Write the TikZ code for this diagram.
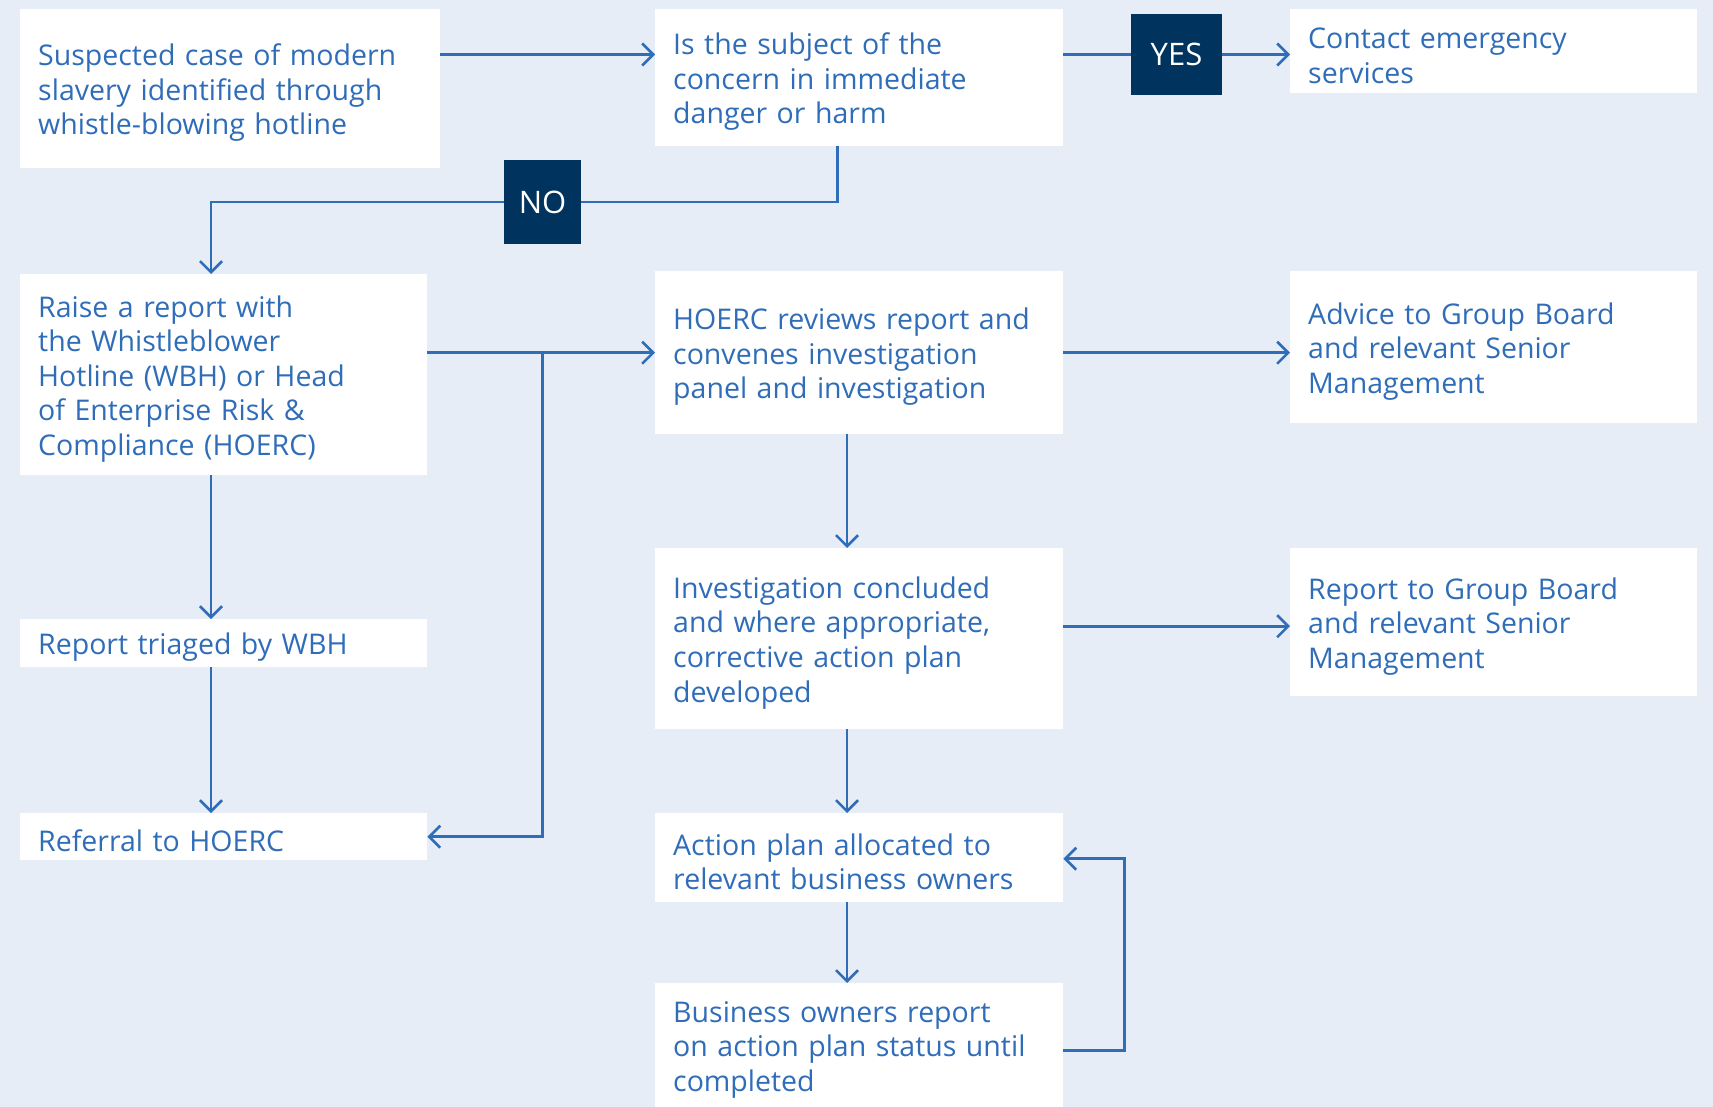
\documentclass[tikz,border=0pt]{standalone}
\usepackage{fontspec}
\setmainfont{Open Sans}
\usetikzlibrary{arrows.meta, positioning}

\definecolor{bgblue}{HTML}{E6EDF7}
\definecolor{txtblue}{HTML}{2F6DB9}
\definecolor{navy}{HTML}{00335E}

\tikzset{
  box/.style={fill=white, anchor=north west, align=left, inner xsep=18pt, inner ysep=0pt,
    text=txtblue, font=\fontsize{28.5}{34.6}\selectfont,
    execute at begin node={\rule{0pt}{30pt}}},
  tag/.style={fill=navy, text=white, inner sep=0pt, font=\fontsize{31}{34}\selectfont},
  link/.style={draw=txtblue, line width=2.6pt},
  flow/.style={link, -{Straight Barb[length=11pt, width=22pt, line width=2.6pt]}},
}

\begin{document}
\begin{tikzpicture}[x=1pt, y=-1pt]

% Background
\fill[bgblue] (0,0) rectangle (1713,1107);
\useasboundingbox (0,0) rectangle (1713,1107);

% Left column
\node[box, text width=384pt, minimum height=159pt] (suspect) at (20,9)
  {Suspected case of modern\\slavery identified through\\whistle-blowing hotline};
\node[box, text width=371pt, minimum height=201pt] (raise) at (20,274)
  {Raise a report with\\the Whistleblower\\Hotline (WBH) or Head\\of Enterprise Risk \&\\Compliance (HOERC)};
\node[box, text width=371pt, minimum height=48pt] (triaged) at (20,619)
  {Report triaged by WBH};
\node[box, text width=371pt, minimum height=47pt] (referral) at (20,813)
  {Referral to HOERC};

% Middle column
\node[box, text width=372pt, minimum height=137pt] (subject) at (655,9)
  {Is the subject of the\\concern in immediate\\danger or harm};
\node[box, text width=372pt, minimum height=163pt] (hoerc) at (655,271)
  {HOERC reviews report and\\convenes investigation\\panel and investigation};
\node[box, text width=372pt, minimum height=181pt] (invest) at (655,548)
  {Investigation concluded\\and where appropriate,\\corrective action plan\\developed};
\node[box, text width=372pt, minimum height=89pt] (action) at (655,813)
  {Action plan allocated to\\relevant business owners};
\node[box, text width=372pt, minimum height=124pt] (business) at (655,983)
  {Business owners report\\on action plan status until\\completed};

% Right column
\node[box, text width=371pt, minimum height=84pt] (contact) at (1290,9)
  {Contact emergency\\services};
\node[box, text width=371pt, minimum height=152pt] (advice) at (1290,271)
  {Advice to Group Board\\and relevant Senior\\Management};
\node[box, text width=371pt, minimum height=148pt] (reportgb) at (1290,548)
  {Report to Group Board\\and relevant Senior\\Management};

% Decision tags
\node[tag, minimum width=91pt, minimum height=81pt] (yes) at (1176.5,54.5) {YES};
\node[tag, minimum width=77pt, minimum height=84pt] (no) at (542.5,202) {NO};

% Connectors
\draw[flow] (suspect.east |- yes) -- (subject.west |- yes);
\draw[link] (subject.east |- yes) -- (yes.west);
\draw[flow] (yes.east) -- (contact.west |- yes);
\draw[link] ([xshift=-22pt]subject.south) |- (no.east);
\draw[flow] (no.west) -| ([xshift=191pt]raise.north west);
\draw[flow] ([xshift=191pt]raise.south west) -- ([xshift=191pt]triaged.north west);
\draw[flow] ([xshift=191pt]triaged.south west) -- ([xshift=191pt]referral.north west);
\draw[flow] (raise.east |- hoerc) -- (hoerc.west);
\draw[flow] (no |- hoerc) -- (no |- referral) -- (referral.east);
\draw[flow] (hoerc.east) -- (advice.west |- hoerc);
\draw[flow] ([xshift=192pt]hoerc.south west) -- ([xshift=192pt]invest.north west);
\draw[flow] (invest.east |- reportgb) ++(0,4) -- ([yshift=-4pt]reportgb.west);
\draw[flow] ([xshift=192pt]invest.south west) -- ([xshift=192pt]action.north west);
\draw[flow] ([xshift=192pt]action.south west) -- ([xshift=192pt]business.north west);
\draw[flow] ([yshift=-5pt]business.east) -- ++(61,0) |- ([yshift=-1pt]action.east);

\end{tikzpicture}
\end{document}
